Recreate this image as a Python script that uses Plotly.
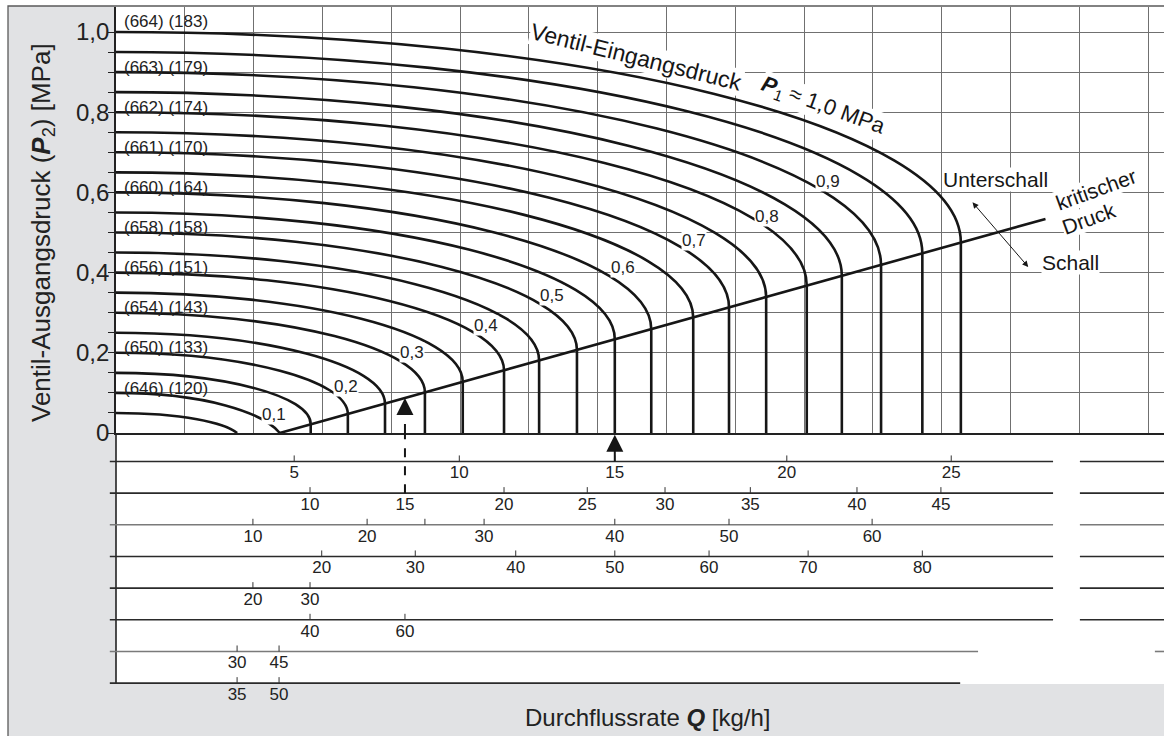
import plotly.graph_objects as go

W, H = 1164, 736
FONT = "Liberation Sans, Arial, Helvetica, sans-serif"
INK = "#161616"
GRID = "#707070"

# ---------------- data ----------------
# inlet pressure P1 of every curve [MPa]
p1_levels = [0.05, 0.10, 0.15, 0.20, 0.25, 0.30, 0.35, 0.40, 0.45, 0.50,
             0.55, 0.60, 0.65, 0.70, 0.75, 0.80, 0.85, 0.90, 0.95, 1.00]
# flow position where each curve reaches the critical line / zero (grid units)
curve_end_x = [1.76, 2.38, 2.83, 3.37, 3.91, 4.49, 5.04, 5.64, 6.15, 6.70,
               7.25, 7.78, 8.39, 8.91, 9.45, 10.04, 10.55, 11.12, 11.72, 12.28]
# outlet pressure P2 at that point [MPa]
curve_end_p2 = [0.0, 0.0, 0.022, 0.047, 0.073, 0.101, 0.128, 0.156, 0.181, 0.207,
                0.234, 0.259, 0.288, 0.313, 0.339, 0.368, 0.392, 0.419, 0.448, 0.475]

# critical pressure line
critical_x = [2.38, 13.51]
critical_p2 = [0.0, 0.534]

# curve labels (P1)
curve_label_text = ["0,1", "0,2", "0,3", "0,4", "0,5", "0,6", "0,7", "0,8", "0,9"]
curve_label_x = [2.30, 3.34, 4.30, 5.38, 6.34, 7.37, 8.40, 9.46, 10.35]
curve_label_p2 = [0.045, 0.117, 0.200, 0.267, 0.342, 0.412, 0.479, 0.539, 0.626]

# temperature labels at the left edge
temp_label_p1 = [0.1, 0.2, 0.3, 0.4, 0.5, 0.6, 0.7, 0.8, 0.9, 1.0]
temp_label_text = ["(646) (120)", "(650) (133)", "(654) (143)", "(656) (151)", "(658) (158)",
                   "(660) (164)", "(661) (170)", "(662) (174)", "(663) (179)", "(664) (183)"]

# y axis ticks
y_tick_vals = [0.0, 0.1, 0.2, 0.3, 0.4, 0.5, 0.6, 0.7, 0.8, 0.9, 1.0]
y_tick_text = ["0", "", "0,2", "", "0,4", "", "0,6", "", "0,8", "", "1,0"]
y_minor_vals = [0.05, 0.15, 0.25, 0.35, 0.45, 0.55, 0.65, 0.75, 0.85, 0.95]

# flow scales below the chart (one row per valve size); "" = unlabelled tick
scale_labels = [
    ["5", "10", "15", "20", "25"],
    ["10", "15", "20", "25", "30", "35", "40", "45"],
    ["10", "20", "", "30", "40", "50", "60"],
    ["20", "30", "40", "50", "60", "70", "80"],
    ["20", "30"],
    ["40", "60"],
    ["30", "45"],
    ["35", "50"],
]
scale_pos = [
    [2.59, 4.99, 7.25, 9.75, 12.14],
    [2.82, 4.20, 5.64, 6.85, 7.98, 9.22, 10.77, 11.99],
    [1.99, 3.65, 4.49, 5.35, 7.25, 8.91, 10.99],
    [2.99, 4.35, 5.81, 7.25, 8.62, 10.06, 11.72],
    [1.99, 2.82],
    [2.82, 4.20],
    [1.76, 2.37],
    [1.76, 2.37],
]
scale_segments = [
    [(-0.09, 13.62), (14.01, 15.4)],
    [(-0.09, 13.62), (14.01, 15.4)],
    [(-0.09, 13.62), (14.01, 15.4)],
    [(-0.09, 13.62), (14.01, 15.4)],
    [(-0.09, 13.62), (14.01, 15.4)],
    [(-0.09, 13.62), (14.01, 15.4)],
    [(-0.09, 12.53), (15.10, 15.4)],
    [(-0.09, 12.27)],
]
scale_colors = ["#2a2a2a", "#2a2a2a", "#7a7a7a", "#2a2a2a", "#2a2a2a", "#2a2a2a", "#7a7a7a", "#2a2a2a"]

# example readings (arrows)
example_dashed = dict(x=4.20, row=2, p2=0.087)
example_solid = dict(x=7.25, row=1)

# ---------------- figure ----------------
X_MAX = 1048 / 68.8
X2_MIN = -8 / 68.8
ROW_H = 31.67
Y2_TOP = -(433 - 429.8) / ROW_H
Y2_BOT = -(705 - 429.8) / ROW_H

fig = go.Figure()

# critical line
fig.add_trace(go.Scatter(x=critical_x, y=critical_p2, mode="lines",
                         line=dict(color=INK, width=2.6), xaxis="x", yaxis="y",
                         hoverinfo="skip"))

# left border of the scale block
fig.add_trace(go.Scatter(x=[0, 0], y=[Y2_TOP, -len(scale_labels)], mode="lines",
                         line=dict(color="#222", width=1.6), xaxis="x2", yaxis="y2", hoverinfo="skip"))

# scale rows
for k, (segs, labs, pos, col) in enumerate(zip(scale_segments, scale_labels, scale_pos, scale_colors), start=1):
    lx, ly = [], []
    for a, b in segs:
        lx += [a, b, None]
        ly += [-k, -k, None]
    fig.add_trace(go.Scatter(x=lx, y=ly, mode="lines", line=dict(color=col, width=1.6),
                             xaxis="x2", yaxis="y2", hoverinfo="skip"))
    tx, ty = [], []
    for p in pos:
        tx += [p, p, None]
        ty += [-k, -k + 0.19, None]
    fig.add_trace(go.Scatter(x=tx, y=ty, mode="lines", line=dict(color="#333", width=1),
                             xaxis="x2", yaxis="y2", hoverinfo="skip"))
    lab_x = [p for p, t in zip(pos, labs) if t]
    lab_t = [t for t in labs if t]
    fig.add_trace(go.Scatter(x=lab_x, y=[-k - 0.40] * len(lab_x), mode="text", text=lab_t,
                             textfont=dict(family=FONT, size=17, color="#222"),
                             xaxis="x2", yaxis="y2", hoverinfo="skip", cliponaxis=False))

# dashed example arrow
fig.add_trace(go.Scatter(x=[example_dashed["x"]] * 2, y=[-example_dashed["row"], Y2_TOP], mode="lines",
                         line=dict(color=INK, width=2, dash="dash"), xaxis="x2", yaxis="y2", hoverinfo="skip"))
fig.add_trace(go.Scatter(x=[example_dashed["x"]] * 2, y=[0, example_dashed["p2"] - 0.03], mode="lines",
                         line=dict(color=INK, width=2, dash="dash"), xaxis="x", yaxis="y", hoverinfo="skip"))
fig.add_trace(go.Scatter(x=[example_dashed["x"]], y=[example_dashed["p2"]], mode="markers",
                         marker=dict(symbol="arrow-up", size=17, color=INK, line=dict(width=0)),
                         xaxis="x", yaxis="y", hoverinfo="skip"))
# solid example arrow
fig.add_trace(go.Scatter(x=[example_solid["x"]] * 2, y=[-example_solid["row"], -0.6], mode="lines",
                         line=dict(color=INK, width=2), xaxis="x2", yaxis="y2", hoverinfo="skip"))
fig.add_trace(go.Scatter(x=[example_solid["x"]], y=[-0.16], mode="markers",
                         marker=dict(symbol="arrow-up", size=17, color=INK, line=dict(width=0)),
                         xaxis="x2", yaxis="y2", hoverinfo="skip"))

# ---------------- shapes ----------------
shapes = [
    dict(type="rect", xref="paper", yref="paper", x0=8 / W, x1=1.02, y0=-0.02, y1=1 - 6 / H,
         fillcolor="#e1e2e4", line=dict(width=0), layer="below"),
    dict(type="rect", xref="paper", yref="paper", x0=116 / W, x1=1.02, y0=1 - 684 / H, y1=1 - 6 / H,
         fillcolor="white", line=dict(width=0), layer="below"),
    dict(type="path", xref="paper", yref="paper",
         path=f"M {8 / W},-0.02 L {8 / W},{1 - 6 / H} L 1.02,{1 - 6 / H}",
         line=dict(color="#5a5a5a", width=1.3), layer="below"),
]

KAPPA = 0.5523  # cubic-Bezier handle for a quarter ellipse
for p1, xe, ye in zip(p1_levels, curve_end_x, curve_end_p2):
    if p1 <= 0.10:
        path = f"M 0,{p1} C {0.55 * xe},{p1} {0.9 * xe},{0.5 * p1} {xe},0"
    else:
        path = (f"M 0,{p1} C {KAPPA * xe},{p1} {xe},{ye + KAPPA * (p1 - ye)} {xe},{ye} "
                f"L {xe},0")
    shapes.append(dict(type="path", xref="x", yref="y", path=path,
                       line=dict(color=INK, width=2.6), layer="above"))

# ---------------- annotations ----------------
def A(**kw):
    kw.setdefault("xanchor", "center")
    kw.setdefault("yanchor", "middle")
    kw.setdefault("showarrow", False)
    return kw

ann = []
for t, x, y in zip(curve_label_text, curve_label_x, curve_label_p2):
    ann.append(A(x=x, y=y, xref="x", yref="y", text=t,
                 font=dict(family=FONT, size=17, color="#222"), bgcolor="white", borderpad=0))
for p1, t in zip(temp_label_p1, temp_label_text):
    yy = p1 + (0.027 if p1 >= 1.0 else 0.012)
    ann.append(A(x=0.08, y=yy, xref="x", yref="y", text=t, xanchor="left",
                 font=dict(family=FONT, size=17, color="#222")))

ann += [
    A(x=7.57, y=0.938, xref="x", yref="y", text="Ventil-Eingangsdruck",
      textangle=14, font=dict(family=FONT, size=23, color=INK), bgcolor="white", borderpad=0),
    A(x=10.27, y=0.815, xref="x", yref="y",
      text="<b><i>P</i></b><sub>1</sub> ≈ 1,0 MPa",
      textangle=20, font=dict(family=FONT, size=22, color=INK), bgcolor="white", borderpad=0),
    A(x=12.79, y=0.633, xref="x", yref="y", text="Unterschall",
      font=dict(family=FONT, size=21, color=INK), bgcolor="white", borderpad=0),
    A(x=13.87, y=0.426, xref="x", yref="y", text="Schall",
      font=dict(family=FONT, size=21, color=INK), bgcolor="white", borderpad=0),
    A(x=14.24, y=0.608, xref="x", yref="y", text="kritischer", textangle=-20,
      font=dict(family=FONT, size=21, color=INK), bgcolor="white", borderpad=0),
    A(x=14.14, y=0.536, xref="x", yref="y", text="Druck", textangle=-20,
      font=dict(family=FONT, size=21, color=INK), bgcolor="white", borderpad=0),
    dict(x=13.26, y=0.414, xref="x", yref="y", ax=12.43, ay=0.579, axref="x", ayref="y",
         text="", showarrow=True, arrowside="end+start", arrowhead=2, startarrowhead=2,
         arrowsize=1.2, startarrowsize=1.2, arrowwidth=1, arrowcolor=INK),
    A(x=42 / W, y=1 - 233 / H, xref="paper", yref="paper",
      text="Ventil-Ausgangsdruck (<b><i>P</i></b><sub>2</sub>) [MPa]",
      textangle=-90, font=dict(family=FONT, size=26, color="#222")),
    A(x=647 / W, y=1 - 717 / H, xref="paper", yref="paper",
      text="Durchflussrate <b><i>Q</i></b> [kg/h]",
      font=dict(family=FONT, size=24, color="#222")),
]

fig.update_layout(
    width=W, height=H, margin=dict(l=0, r=0, t=0, b=0, pad=0, autoexpand=False),
    paper_bgcolor="white", plot_bgcolor="rgba(0,0,0,0)",
    showlegend=False, hovermode=False,
    shapes=shapes, annotations=ann,
    xaxis=dict(domain=[116 / W, 1], range=[0, X_MAX], anchor="y", automargin=False,
               tickmode="linear", tick0=0, dtick=1, showticklabels=False, ticks="",
               showgrid=True, gridcolor=GRID, gridwidth=1, zeroline=False,
               showline=True, linecolor="#222", linewidth=1.6),
    yaxis=dict(domain=[1 - 433 / H, 1 - 7 / H], range=[0, 1.0624], anchor="x", automargin=False,
               tickmode="array", tickvals=y_tick_vals, ticktext=y_tick_text,
               ticks="outside", ticklen=6, tickcolor="#222", tickwidth=1,
               ticklabelstandoff=-6,
               tickfont=dict(family=FONT, size=24, color="#222"),
               minor=dict(tickmode="array", tickvals=y_minor_vals, ticks="outside",
                          ticklen=6, tickcolor="#222", tickwidth=1, showgrid=False),
               showgrid=True, gridcolor=GRID, gridwidth=1, zeroline=False,
               showline=True, linecolor="#222", linewidth=1.6),
    xaxis2=dict(domain=[108 / W, 1], range=[X2_MIN, X_MAX], anchor="y2", visible=False,
                automargin=False),
    yaxis2=dict(domain=[1 - 705 / H, 1 - 433 / H], range=[Y2_BOT, Y2_TOP], anchor="x2",
                visible=False, automargin=False),
)

fig.write_html("out.html", config={"displayModeBar": False},
               post_script="document.body.style.margin='0';document.body.style.overflow='hidden';")
